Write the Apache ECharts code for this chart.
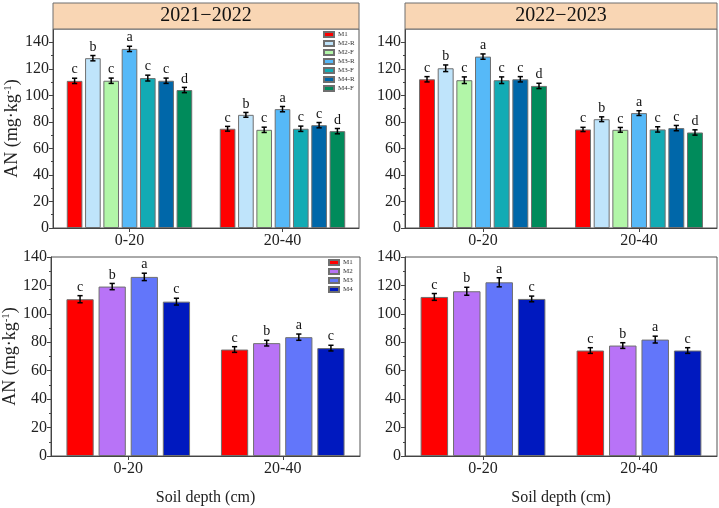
<!DOCTYPE html>
<html><head><meta charset="utf-8">
<script src="https://cdn.jsdelivr.net/npm/echarts@6/dist/echarts.min.js"></script>
<style>html,body{margin:0;padding:0;background:#fff}#c{width:719px;height:508px}</style>
</head><body><div id="c"></div>
<script>
// ---- data ----
const categories = ['0-20', '20-40'];
const topNames = ['M1', 'M2-R', 'M2-F', 'M3-R', 'M3-F', 'M4-R', 'M4-F'];
const bottomNames = ['M1', 'M2', 'M3', 'M4'];
const panelTitles = ['2021\u22122022', '2022\u22122023'];
const yTicksTop = [0, 20, 40, 60, 80, 100, 120, 140];

// 2021-2022, per treatment: [0-20, 20-40]
const tl_values = [[110.9, 74.8], [128.0, 85.3], [111.0, 74.0], [135.0, 89.6], [113.0, 74.8], [111.0, 77.5], [104.0, 73.0]];
const tl_errors = [[2.0, 1.8], [2.0, 1.8], [2.0, 2.0], [2.0, 2.0], [2.2, 2.0], [2.0, 2.0], [2.0, 2.0]];
const tl_letters = [['c', 'c'], ['b', 'b'], ['c', 'c'], ['a', 'a'], ['c', 'c'], ['c', 'c'], ['d', 'd']];
// 2022-2023
const tr_values = [[112.1, 74.3], [120.4, 82.0], [111.4, 74.0], [129.2, 86.6], [111.4, 74.3], [112.1, 75.3], [107.1, 72.0]];
const tr_errors = [[2.0, 1.6], [2.5, 1.8], [2.5, 1.8], [2.0, 1.8], [2.5, 2.0], [2.0, 2.0], [2.0, 2.0]];
const tr_letters = [['c', 'c'], ['b', 'b'], ['c', 'c'], ['a', 'a'], ['c', 'c'], ['c', 'c'], ['d', 'd']];
// bottom: pooled treatments
const bl_values = [[110.3, 74.9], [119.2, 79.4], [126.0, 83.6], [108.6, 75.9]];
const bl_errors = [[2.5, 2.0], [2.2, 2.0], [2.6, 2.2], [2.4, 2.0]];
const bl_letters = [['c', 'c'], ['b', 'b'], ['a', 'a'], ['c', 'c']];
const br_values = [[111.9, 74.2], [115.9, 77.7], [122.2, 81.9], [110.5, 74.2]];
const br_errors = [[2.4, 2.0], [2.8, 2.0], [3.2, 2.4], [2.0, 2.0]];
const br_letters = [['c', 'c'], ['b', 'b'], ['a', 'a'], ['c', 'c']];

// ---- styles ----
const topColors = ['#ff0000', '#bfe4fb', '#b2f6a8', '#56b9f8', '#12abb4', '#0067a9', '#008b5b'];
const bottomColors = ['#ff0000', '#b873f7', '#6276fa', '#0019bf'];
const FONT = '"Liberation Serif", "DejaVu Serif", serif';

const chart = echarts.init(document.getElementById('c'), null, { renderer: 'canvas' });

const grids = [
  { left: 53, top: 29, right: 360, bottom: 280 },
  { left: 405, top: 29, right: 2, bottom: 280 },
  { left: 51, top: 257, right: 359, bottom: 52 },
  { left: 405, top: 257, right: 2, bottom: 52 }
];
const panels = [
  { names: topNames, colors: topColors, values: tl_values, errors: tl_errors, letters: tl_letters, catGap: 0.18, gap: 0.17, max: 150 },
  { names: topNames, colors: topColors, values: tr_values, errors: tr_errors, letters: tr_letters, catGap: 0.18, gap: 0.17, max: 150 },
  { names: bottomNames, colors: bottomColors, values: bl_values, errors: bl_errors, letters: bl_letters, catGap: 0.2, gap: 0.18, max: 140 },
  { names: bottomNames, colors: bottomColors, values: br_values, errors: br_errors, letters: br_letters, catGap: 0.2, gap: 0.18, max: 140 }
];

const xAxes = [], yAxes = [], series = [];
panels.forEach((p, gi) => {
  xAxes.push({
    type: 'category', gridIndex: gi, data: categories,
    axisLine: { lineStyle: { color: '#444', width: 1 } },
    axisTick: { show: true, alignWithLabel: true, length: 4, lineStyle: { color: '#444' } },
    axisLabel: { fontFamily: FONT, fontSize: 16, color: '#222', margin: 5 },
    name: gi >= 2 ? 'Soil depth (cm)' : '', nameLocation: 'middle', nameGap: 34,
    nameTextStyle: { fontFamily: FONT, fontSize: 16, color: '#222' }
  });
  yAxes.push({
    type: 'value', gridIndex: gi, min: 0, max: p.max, interval: 20,
    axisLine: { show: true, lineStyle: { color: '#444', width: 1 } },
    axisTick: { show: true, length: 4, customValues: yTicksTop, lineStyle: { color: '#444' } },
    minorTick: { show: true, splitNumber: 2, length: 2, lineStyle: { color: '#444' } },
    splitLine: { show: false },
    axisLabel: { fontFamily: FONT, fontSize: 16, color: '#222', margin: 4, customValues: yTicksTop },
    name: (gi === 0 || gi === 2) ? 'AN (mg\u00b7kg{sup|-1})' : '',
    nameLocation: 'middle', nameGap: 30,
    nameTextStyle: {
      fontFamily: FONT, fontSize: 18, color: '#222',
      rich: { sup: { fontFamily: FONT, fontSize: 11, color: '#222', verticalAlign: 'top', lineHeight: 18 } }
    }
  });
  p.names.forEach((nm, si) => {
    series.push({
      type: 'bar', name: nm, xAxisIndex: gi, yAxisIndex: gi,
      data: p.values[si],
      barGap: (p.gap * 100) + '%', barCategoryGap: (p.catGap * 100) + '%',
      itemStyle: { color: p.colors[si], borderColor: '#6f6f6f', borderWidth: 1 },
      emphasis: { disabled: true }
    });
  });
  const errData = [];
  const letterList = [];
  p.names.forEach((nm, si) => {
    categories.forEach((c, ci) => {
      errData.push([ci, p.values[si][ci], p.errors[si][ci], si]);
      letterList.push(p.letters[si][ci]);
    });
  });
  const n = p.names.length;
  series.push({
    type: 'custom', name: 'err' + gi, xAxisIndex: gi, yAxisIndex: gi, z: 10,
    data: errData, encode: { x: 0, y: 1 }, silent: true,
    renderItem: function (params, api) {
      const ci = api.value(0), v = api.value(1), e = api.value(2), si = api.value(3);
      const band = api.size([1, 0])[0];
      const usable = band * (1 - p.catGap);
      const bw = usable / (n + (n - 1) * p.gap);
      const c = api.coord([ci, v]);
      const x = c[0] - usable / 2 + si * bw * (1 + p.gap) + bw / 2;
      const yt = api.coord([ci, v + e])[1];
      const yb = api.coord([ci, v - e])[1];
      const cap = 2.6;
      const ls = { stroke: '#000', lineWidth: 1.5 };
      return {
        type: 'group', children: [
          { type: 'line', shape: { x1: x, y1: yt, x2: x, y2: yb }, style: ls },
          { type: 'line', shape: { x1: x - cap, y1: yt, x2: x + cap, y2: yt }, style: ls },
          { type: 'line', shape: { x1: x - cap, y1: yb, x2: x + cap, y2: yb }, style: ls },
          { type: 'text', style: { text: letterList[params.dataIndex], x: x, y: yt - 1.5, textAlign: 'center', textVerticalAlign: 'bottom', font: '14px ' + FONT, fill: '#111' } }
        ]
      };
    }
  });
});

const legendBase = {
  orient: 'vertical', itemWidth: 10, itemHeight: 5, itemGap: 2,
  textStyle: { fontFamily: FONT, fontSize: 7, color: '#333', lineHeight: 7, padding: [0, 0, 0, -1] },
  icon: 'rect', padding: 0, selectedMode: false
};

chart.setOption({
  animation: false,
  backgroundColor: '#fff',
  grid: grids.map(g => Object.assign({ show: true, borderColor: '#555', borderWidth: 1, backgroundColor: 'transparent', containLabel: false }, g)),
  xAxis: xAxes, yAxis: yAxes, series: series,
  legend: [
    Object.assign({}, legendBase, { left: 323, top: 31 }),
    Object.assign({}, legendBase, { left: 328, top: 259 })
  ].map((l, i) => { l.data = (i === 0 ? topNames : bottomNames).map(nm => ({ name: nm })); return l; }),
  graphic: [
    { type: 'rect', shape: { x: 53, y: 3, width: 306, height: 26 }, style: { fill: '#f9d6b4', stroke: '#6f6f6f', lineWidth: 1 }, z: 5 },
    { type: 'text', x: 206, y: 16, style: { text: panelTitles[0], textAlign: 'center', textVerticalAlign: 'middle', font: '20px ' + FONT, fill: '#111' }, z: 6 },
    { type: 'rect', shape: { x: 405, y: 3, width: 312, height: 26 }, style: { fill: '#f9d6b4', stroke: '#6f6f6f', lineWidth: 1 }, z: 5 },
    { type: 'text', x: 561, y: 16, style: { text: panelTitles[1], textAlign: 'center', textVerticalAlign: 'middle', font: '20px ' + FONT, fill: '#111' }, z: 6 }
  ]
});
</script>
</body></html>
